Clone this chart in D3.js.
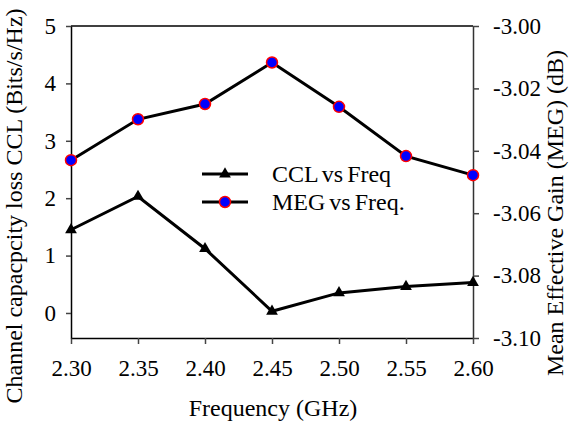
<!DOCTYPE html>
<html>

<head>
    <meta charset="utf-8">
    <script src="https://d3js.org/d3.v7.min.js"></script>
    <style>
        body {
            margin: 0;
            background-color: #ffffff;
            font-family: 'Liberation Serif', 'Times New Roman', serif;
        }
    </style>
    <title>CCL and MEG vs Frequency</title>
</head>

<body>
    <svg id="chart" width="570" height="424"></svg>

    <script>
        // data
        var freqs = [2.30, 2.35, 2.40, 2.45, 2.50, 2.55, 2.60];
        var cclValues = [1.45, 2.03, 1.12, 0.03, 0.35, 0.46, 0.53];
        var megValues = [-3.0430, -3.0299, -3.0250, -3.0117, -3.0259, -3.0417, -3.0478];
        var leftTicks = [0, 1, 2, 3, 4, 5];
        var rightTicks = [-3.10, -3.08, -3.06, -3.04, -3.02, -3.00];
        var legendLabels = ["CCL vs Freq", "MEG vs Freq."];

        var canvas = d3.select("#chart");
        var plotLeft = 71, plotRight = 473, plotTop = 26, plotBottom = 338;

        var xScale = d3.scaleLinear()
            .domain([2.30, 2.60])
            .range([plotLeft, plotRight]);
        var yLeft = d3.scaleLinear()
            .domain([-0.436, 5])
            .range([plotBottom, plotTop]);
        var yRight = d3.scaleLinear()
            .domain([-3.10, -3.00])
            .range([plotBottom, plotTop]);

        // top frame line
        canvas.append("line")
            .attr("x1", plotLeft).attr("x2", plotRight)
            .attr("y1", plotTop).attr("y2", plotTop)
            .style("stroke", "#000")
            .style("stroke-width", "1.5px");

        var xAxis = d3.axisBottom(xScale)
            .tickValues(freqs)
            .tickSize(6)
            .tickSizeOuter(0)
            .tickPadding(16)
            .tickFormat(function (d) { return d.toFixed(2); });
        var leftAxis = d3.axisLeft(yLeft)
            .tickValues(leftTicks)
            .tickSize(5)
            .tickSizeOuter(0)
            .tickPadding(10)
            .tickFormat(function (d) { return String(d); });
        var rightAxis = d3.axisRight(yRight)
            .tickValues(rightTicks)
            .tickSize(6)
            .tickSizeOuter(0)
            .tickPadding(14)
            .tickFormat(function (d) { return (d < 0 ? "-" : "") + Math.abs(d).toFixed(2); });

        var gx = canvas.append("g")
            .attr("transform", "translate(0," + plotBottom + ")")
            .call(xAxis);
        var gl = canvas.append("g")
            .attr("transform", "translate(" + plotLeft + ",0)")
            .call(leftAxis);
        var gr = canvas.append("g")
            .attr("transform", "translate(" + plotRight + ",0)")
            .call(rightAxis);

        [gx, gl, gr].forEach(function (g) {
            g.selectAll("path.domain")
                .style("stroke", "#000")
                .style("stroke-width", "1.5px");
            g.selectAll(".tick line")
                .style("stroke", "#444")
                .style("stroke-width", "1.5px");
            g.selectAll("text")
                .style("font-family", "'Liberation Serif', serif")
                .style("font-size", "23px")
                .style("fill", "#000");
        });
        gr.selectAll("path.domain").style("stroke", "#333");

        // axis titles
        canvas.append("text")
            .attr("transform", "translate(22,206) rotate(-90)")
            .attr("text-anchor", "middle")
            .style("font-size", "24px")
            .text("Channel capacpcity loss CCL (Bits/s/Hz)");

        canvas.append("text")
            .attr("transform", "translate(563,213) rotate(-90)")
            .attr("text-anchor", "middle")
            .style("font-size", "24px")
            .text("Mean Effective Gain (MEG) (dB)");

        canvas.append("text")
            .attr("x", 273)
            .attr("y", 416)
            .attr("text-anchor", "middle")
            .style("font-size", "24px")
            .text("Frequency (GHz)");

        // lines
        var cclLine = d3.line()
            .x(function (d, i) { return xScale(freqs[i]); })
            .y(function (d) { return yLeft(d); });
        var megLine = d3.line()
            .x(function (d, i) { return xScale(freqs[i]); })
            .y(function (d) { return yRight(d); });

        canvas.append("path")
            .attr("d", cclLine(cclValues))
            .style("fill", "none")
            .style("stroke", "#000")
            .style("stroke-width", "3px");
        canvas.append("path")
            .attr("d", megLine(megValues))
            .style("fill", "none")
            .style("stroke", "#000")
            .style("stroke-width", "3px");

        var triangle = d3.symbol().type(d3.symbolTriangle).size(60);

        canvas.selectAll(".ccl")
            .data(cclValues)
            .enter()
            .append("path")
            .attr("class", "ccl")
            .attr("d", triangle)
            .attr("transform", function (d, i) {
                return "translate(" + xScale(freqs[i]) + "," + yLeft(d) + ")";
            })
            .style("fill", "#000");

        canvas.selectAll(".meg")
            .data(megValues)
            .enter()
            .append("circle")
            .attr("class", "meg")
            .attr("cx", function (d, i) { return xScale(freqs[i]); })
            .attr("cy", function (d) { return yRight(d); })
            .attr("r", 5.5)
            .style("fill", "#0000ff")
            .style("stroke", "#ff0000")
            .style("stroke-width", "1.5px");

        // legend
        var legend = canvas.append("g");
        var legendY = [174, 202];
        legendLabels.forEach(function (label, i) {
            var y = legendY[i];
            legend.append("line")
                .attr("x1", 202).attr("x2", 248)
                .attr("y1", y).attr("y2", y)
                .style("stroke", "#000")
                .style("stroke-width", "3px");
            if (i === 0) {
                legend.append("path")
                    .attr("d", triangle)
                    .attr("transform", "translate(225," + y + ")")
                    .style("fill", "#000");
            } else {
                legend.append("circle")
                    .attr("cx", 225).attr("cy", y).attr("r", 5.5)
                    .style("fill", "#0000ff")
                    .style("stroke", "#ff0000")
                    .style("stroke-width", "1.5px");
            }
            legend.append("text")
                .attr("x", 272)
                .attr("y", y + 8)
                .style("font-size", "24px")
                .style("word-spacing", "-2px")
                .text(label);
        });
    </script>
</body>

</html>
